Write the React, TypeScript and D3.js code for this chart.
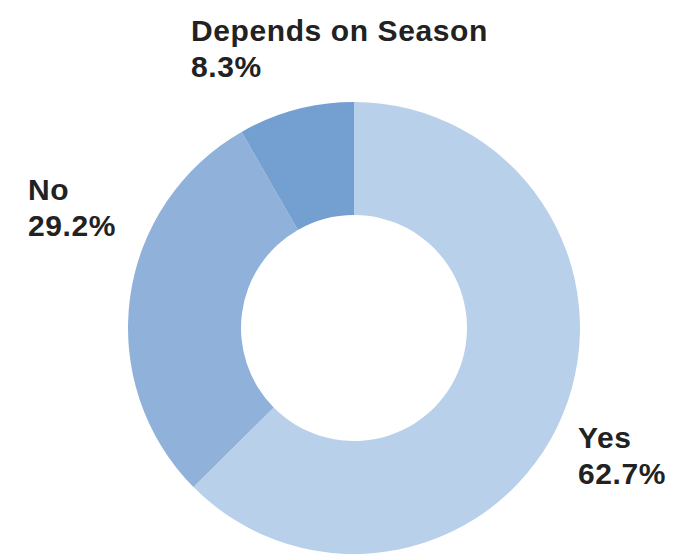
import React from "react";
import * as d3 from "d3";

const categories = ["Yes", "No", "Depends on Season"];
const values = [62.7, 29.2, 8.3];
const valueLabels = ["62.7%", "29.2%", "8.3%"];
const colors = ["#b9d0ea", "#8fb1da", "#74a0d1"];

// label layout (positions of the text blocks, in px)
const labelPos: [number, number][] = [
  [578, 448],
  [28, 200],
  [191, 41],
];

const W = 680;
const H = 554;
const CX = 354;
const CY = 328;
const R_OUT = 226;
const R_IN = 113;

export default function App() {
  const pie = d3
    .pie<number>()
    .sort(null)
    .value((d) => d);
  const arcs = pie(values);
  const arc = d3.arc<d3.PieArcDatum<number>>().innerRadius(R_IN).outerRadius(R_OUT);

  return (
    <svg
      width={W}
      height={H}
      viewBox={`0 0 ${W} ${H}`}
      style={{ position: "absolute", left: 0, top: 0, background: "#fff" }}
    >
      <g transform={`translate(${CX},${CY})`}>
        {arcs.map((a, i) => (
          <path key={i} d={arc(a) || ""} fill={colors[i]} />
        ))}
      </g>
      {categories.map((c, i) => (
        <text
          key={c}
          x={labelPos[i][0]}
          y={labelPos[i][1]}
          fontFamily="'Liberation Sans', Arial, sans-serif"
          fontWeight="bold"
          fontSize={30}
          letterSpacing={0.6}
          fill="#222"
        >
          <tspan x={labelPos[i][0]}>{c}</tspan>
          <tspan x={labelPos[i][0]} dy={36}>
            {valueLabels[i]}
          </tspan>
        </text>
      ))}
    </svg>
  );
}
